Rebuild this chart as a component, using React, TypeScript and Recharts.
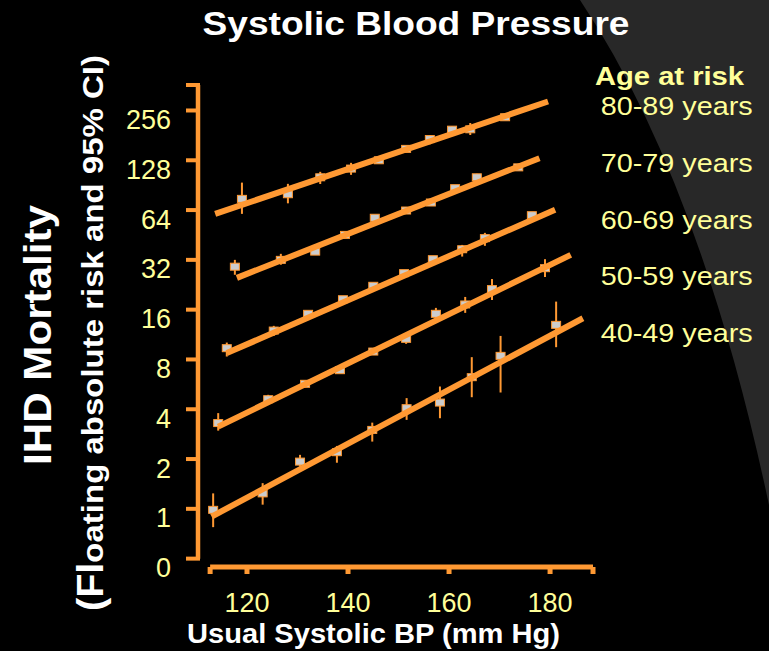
import React from "react";
import { ComposedChart, Scatter, XAxis, YAxis, ErrorBar, ReferenceLine } from "recharts";

const ORANGE = "#ff9933";
const YELLOW = "#ffff99";
const BOX = "#cccccc";
const FONT = "'Liberation Sans', Arial, sans-serif";

const AGE_GROUPS = ["80-89 years", "70-79 years", "60-69 years", "50-59 years", "40-49 years"];

// usual systolic BP (mm Hg), floating absolute risk and its 95% CI, per age band
const BP_80 = [119.0, 128.1, 134.5, 140.6, 146.1, 151.5, 156.2, 160.6, 164.2, 171.1];
const RISK_80 = [74.8, 79.8, 101, 114, 128, 150, 172, 196, 197, 233];
const LO_80 = [60.7, 70.3, 92, 104.5, 124, 146, 160, 187, 182, 227];
const HI_80 = [93.8, 92.2, 109, 123.5, 132, 154, 182, 205, 215, 240];

const BP_70 = [117.6, 126.7, 133.5, 139.4, 145.3, 151.5, 156.4, 161.2, 165.5, 173.7];
const RISK_70 = [29.1, 32.0, 35.9, 45.3, 57.5, 63.6, 71.1, 86.8, 101, 116];
const LO_70 = [26.0, 29.9, 34.8, 44.0, 55.8, 61.7, 69.0, 84.2, 96, 112.5];
const HI_70 = [32.0, 34.8, 37.0, 46.7, 59.2, 65.5, 73.2, 89.4, 106, 119.5];

const BP_60 = [116.0, 125.3, 132.1, 139.0, 145.0, 151.1, 156.8, 162.6, 167.1, 176.4];
const RISK_60 = [9.36, 11.96, 15.1, 18.5, 22.3, 26.6, 32.3, 37.1, 43.3, 59.6];
const LO_60 = [8.33, 11.11, 14.6, 17.9, 21.6, 25.8, 31.3, 33.5, 38.9, 57.8];
const HI_60 = [10.12, 12.77, 15.6, 19.1, 23.0, 27.4, 33.3, 39.4, 46.6, 61.4];

const BP_50 = [114.3, 124.2, 131.5, 138.4, 145.0, 151.5, 157.4, 163.2, 168.5, 179.0];
const RISK_50 = [3.3, 4.6, 5.7, 6.89, 8.93, 10.66, 15.1, 17.2, 21.3, 28.5];
const LO_50 = [2.97, 4.25, 5.53, 6.68, 8.66, 9.94, 13.9, 15.3, 18.3, 25.2];
const HI_50 = [3.79, 4.89, 5.87, 7.1, 9.2, 11.0, 16.4, 19.1, 24.5, 32.3];

const BP_40 = [113.3, 123.1, 130.5, 137.8, 144.8, 151.6, 158.2, 164.5, 170.2, 181.2];
const RISK_40 = [0.986, 1.24, 1.93, 2.2, 3.0, 4.06, 4.39, 6.25, 8.41, 12.95];
const LO_40 = [0.775, 1.06, 1.8, 1.9, 2.55, 3.45, 3.53, 4.73, 5.05, 9.49];
const HI_40 = [1.24, 1.43, 2.12, 2.4, 3.32, 4.67, 5.49, 8.26, 11.1, 17.9];

// fitted lines: [bp start, risk start, bp end, risk end]
const FIT_80 = [113.7, 60.7, 179.6, 290];
const FIT_70 = [118.0, 24.9, 177.9, 131.8];
const FIT_60 = [116.0, 8.74, 181.0, 64.2];
const FIT_50 = [114.3, 3.14, 184.1, 34.3];
const FIT_40 = [113.0, 0.898, 186.5, 14.2];

// axes
const X_DOMAIN = [110.3, 188.5];
const X_TICKS = [112.7, 120, 140, 160, 180, 188.5];
const X_TICK_LABELS = ["", "120", "140", "160", "180", ""];
const Y_DOMAIN = [0.445, 365];
const Y_TICKS = [0.5, 1, 2, 4, 8, 16, 32, 64, 128, 256, 365];
const Y_TICK_LABELS = ["0", "1", "2", "4", "8", "16", "32", "64", "128", "256", ""];

const SERIES = [
  { bp: BP_80, risk: RISK_80, lo: LO_80, hi: HI_80, fit: FIT_80 },
  { bp: BP_70, risk: RISK_70, lo: LO_70, hi: HI_70, fit: FIT_70 },
  { bp: BP_60, risk: RISK_60, lo: LO_60, hi: HI_60, fit: FIT_60 },
  { bp: BP_50, risk: RISK_50, lo: LO_50, hi: HI_50, fit: FIT_50 },
  { bp: BP_40, risk: RISK_40, lo: LO_40, hi: HI_40, fit: FIT_40 },
].map((s) => ({
  points: s.bp.map((x, i) => ({ x, y: s.risk[i], err: [s.risk[i] - s.lo[i], s.hi[i] - s.risk[i]] })),
  fit: [
    { x: s.fit[0], y: s.fit[1] },
    { x: s.fit[2], y: s.fit[3] },
  ],
}));

const Box = (props: any) => {
  const { cx, cy } = props;
  if (cx == null || cy == null) return <g />;
  return <rect x={cx - 4.5} y={cy - 3.5} width={9} height={7} fill={BOX} stroke={ORANGE} strokeWidth={1} />;
};

const Empty = () => <g />;

const YTick = (props: any) => {
  const { x, y, payload } = props;
  const label = Y_TICK_LABELS[Y_TICKS.indexOf(payload.value)];
  return (
    <g>
      <line x1={x - 12} x2={x + 2} y1={y} y2={y} stroke={ORANGE} strokeWidth={4} />
      <text x={x - 27} y={y + 18.5} textAnchor="end" fill={YELLOW} fontSize={27} fontFamily={FONT}>
        {label}
      </text>
    </g>
  );
};

const XTick = (props: any) => {
  const { x, y, payload } = props;
  const label = X_TICK_LABELS[X_TICKS.indexOf(payload.value)];
  return (
    <g>
      <line x1={x} x2={x} y1={y} y2={y + 7} stroke={ORANGE} strokeWidth={5} />
      <text x={x} y={y + 44.5} textAnchor="middle" fill={YELLOW} fontSize={27} fontFamily={FONT}>
        {label}
      </text>
    </g>
  );
};

export default function App() {
  return (
    <div style={{ position: "absolute", left: 0, top: 0, width: 769, height: 651, background: "#000", overflow: "hidden" }}>
      <svg width={769} height={651} style={{ position: "absolute", left: 0, top: 0 }} fontFamily={FONT}>
        <path d="M 580 0 Q 700 180 769 505 L 769 0 Z" fill="#282828" />
        <text x={416} y={35} textAnchor="middle" fill="#fff" fontSize={33} fontWeight="bold" textLength={427} lengthAdjust="spacingAndGlyphs">
          Systolic Blood Pressure
        </text>
        <text x={373.5} y={643} textAnchor="middle" fill="#fff" fontSize={28} fontWeight="bold" textLength={373} lengthAdjust="spacingAndGlyphs">
          Usual Systolic BP (mm Hg)
        </text>
        <text transform="translate(51,335) rotate(-90)" textAnchor="middle" fill="#fff" fontSize={38} fontWeight="bold" textLength={260} lengthAdjust="spacingAndGlyphs">
          IHD Mortality
        </text>
        <text transform="translate(103,333) rotate(-90)" textAnchor="middle" fill="#fff" fontSize={30} fontWeight="bold" textLength={556} lengthAdjust="spacingAndGlyphs">
          <tspan fontSize={36}>(Fl</tspan>oating absolute risk and 95% CI)
        </text>
        <text x={595} y={85} fill={YELLOW} fontSize={25.6} fontWeight="bold" textLength={149} lengthAdjust="spacingAndGlyphs">
          Age at risk
        </text>
        {AGE_GROUPS.map((g, i) => (
          <text key={g} x={600.7} y={115 + i * 56.8} fill={YELLOW} fontSize={25.5} textLength={152} lengthAdjust="spacingAndGlyphs">
            {g}
          </text>
        ))}
      </svg>
      <div style={{ position: "absolute", left: 0, top: 0 }}>
        <ComposedChart width={769} height={651} margin={{ top: 85, right: 176, bottom: 0, left: 0 }}>
          <XAxis
            type="number"
            dataKey="x"
            domain={X_DOMAIN}
            allowDataOverflow
            ticks={X_TICKS}
            interval={0}
            height={84}
            axisLine={false}
            tickLine={false}
            tickSize={0}
            tickMargin={0}
            tick={<XTick />}
          />
          <YAxis
            type="number"
            dataKey="y"
            scale="log"
            domain={Y_DOMAIN}
            allowDataOverflow
            ticks={Y_TICKS}
            interval={0}
            width={198}
            axisLine={false}
            tickLine={false}
            tickSize={0}
            tickMargin={0}
            tick={<YTick />}
          />
          <ReferenceLine
            segment={[{ x: X_TICKS[0], y: Y_DOMAIN[0] }, { x: X_DOMAIN[1], y: Y_DOMAIN[0] }]}
            stroke={ORANGE}
            strokeWidth={5}
            ifOverflow="visible"
          />
          <ReferenceLine
            segment={[{ x: X_DOMAIN[0], y: Y_TICKS[0] }, { x: X_DOMAIN[0], y: Y_DOMAIN[1] }]}
            stroke={ORANGE}
            strokeWidth={4.5}
            ifOverflow="visible"
          />
          {SERIES.map((s, i) => (
            <Scatter key={`box${i}`} data={s.points} shape={<Box />} isAnimationActive={false} />
          ))}
          {SERIES.map((s, i) => (
            <Scatter
              key={`fit${i}`}
              data={s.fit}
              shape={<Empty />}
              line={{ stroke: ORANGE, strokeWidth: 6 }}
              isAnimationActive={false}
            />
          ))}
          {SERIES.map((s, i) => (
            <Scatter key={`ci${i}`} data={s.points} shape={<Empty />} isAnimationActive={false}>
              <ErrorBar dataKey="err" direction="y" width={0} stroke={ORANGE} strokeWidth={2} />
            </Scatter>
          ))}
        </ComposedChart>
      </div>
    </div>
  );
}
